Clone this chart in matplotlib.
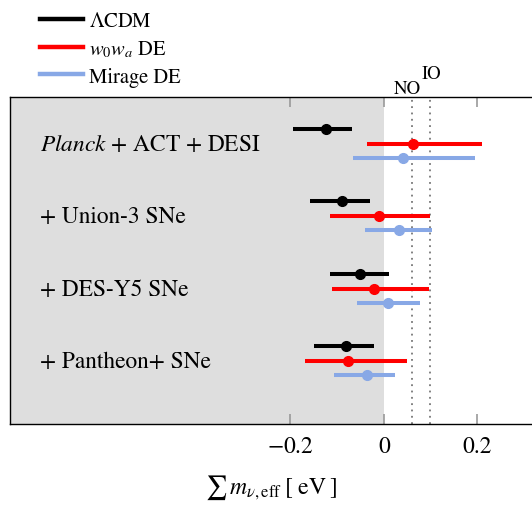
import matplotlib.pyplot as plt

plt.rcParams['font.family'] = ['STIXGeneral', 'DejaVu Serif']
plt.rcParams['mathtext.fontset'] = 'stix'

datasets = [r'$\it{Planck}$ + ACT + DESI', '+ Union-3 SNe', '+ DES-Y5 SNe', '+ Pantheon+ SNe']
models = [r'$\Lambda$CDM', r'$w_0 w_a$ DE', 'Mirage DE']
colors = ['black', '#ff0000', '#88a8e6']

# centre, lower edge, upper edge for each model and dataset
lcdm_mid = [-0.124, -0.089, -0.051, -0.082]
lcdm_lo = [-0.194, -0.159, -0.116, -0.149]
lcdm_hi = [-0.068, -0.030, 0.011, -0.021]

w0wa_mid = [0.063, -0.010, -0.020, -0.077]
w0wa_lo = [-0.036, -0.116, -0.111, -0.169]
w0wa_hi = [0.211, 0.099, 0.096, 0.049]

mirage_mid = [0.042, 0.033, 0.008, -0.037]
mirage_lo = [-0.066, -0.041, -0.057, -0.107]
mirage_hi = [0.196, 0.104, 0.077, 0.025]

no_mass = 0.06
io_mass = 0.10

fig = plt.figure(figsize=(5.32, 5.06), dpi=100)
ax = fig.add_axes([10 / 532, 1 - 425 / 506, 522 / 532, 327 / 506])

x_left, x_right = -0.801, 0.3175
ax.set_xlim(x_left, x_right)
ax.set_ylim(0, 327)

ax.axvspan(x_left, 0, color='#dedede', zorder=0, lw=0)
for m in (no_mass, io_mass):
    ax.axvline(m, color='#777777', ls=(0, (1, 2.5)), lw=1.3, zorder=1)

group_y = [327 - 48, 327 - 120, 327 - 193, 327 - 265]
offsets = [16, 1.5, -13]
mids = [lcdm_mid, w0wa_mid, mirage_mid]
los = [lcdm_lo, w0wa_lo, mirage_lo]
his = [lcdm_hi, w0wa_hi, mirage_hi]

for k in range(3):
    for i in range(len(datasets)):
        y = group_y[i] + offsets[k]
        ax.plot([los[k][i], his[k][i]], [y, y], color=colors[k], lw=2.9,
                solid_capstyle='butt', zorder=3)
        ax.plot(mids[k][i], y, 'o', color=colors[k], ms=7, zorder=4)

for i, name in enumerate(datasets):
    ax.text(-0.737, group_y[i] + 1, name, fontsize=16.8, va='center', ha='left')

ax.set_xticks([-0.2, 0, 0.2])
ax.set_xticklabels([r'$-0.2$', '0', '0.2'], fontsize=17)
ax.set_yticks([])
ax.tick_params(axis='x', direction='in', top=True, length=7, width=1.2,
               color='#999999', pad=8)
ax.spines['right'].set_visible(False)
for s in ('top', 'bottom', 'left'):
    ax.spines[s].set_linewidth(1.0)

ax.set_xlabel(r'$\sum\, m_{\nu,\mathrm{eff}}\;[\;\mathrm{eV}\;]$', fontsize=17, labelpad=12)

ax.text(no_mass + 0.02, 327, 'NO', fontsize=13.5, ha='right', va='bottom')
ax.text(io_mass + 0.002, 342, 'IO', fontsize=13.5, ha='center', va='bottom')

handles = [plt.Line2D([], [], color=c, lw=3.2) for c in colors]
fig.legend(handles, models, loc='upper left', bbox_to_anchor=(0.04, 1.012),
           frameon=False, fontsize=14.8, handlelength=2.1, handletextpad=0.3,
           labelspacing=0.36)

fig.savefig('out.png', dpi=100)
